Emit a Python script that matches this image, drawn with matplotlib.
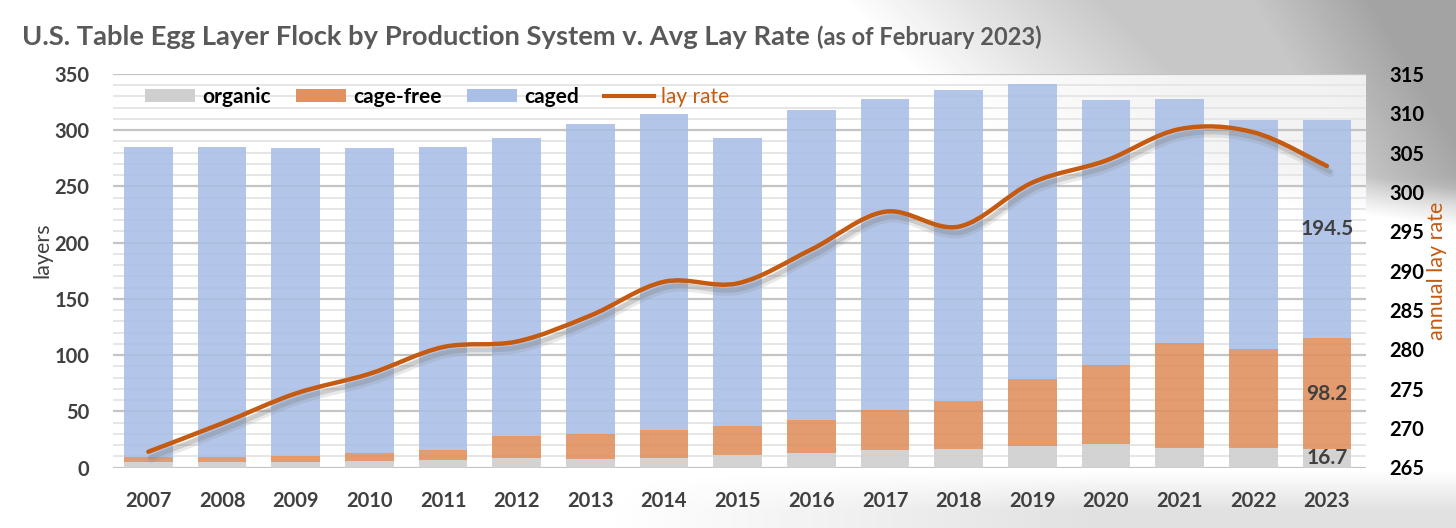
import numpy as np
import matplotlib
matplotlib.use("Agg")
from matplotlib import pyplot as plt
from matplotlib.path import Path
from matplotlib.patches import PathPatch, Patch
from matplotlib.lines import Line2D
import matplotlib.patheffects as pe

plt.rcParams["font.family"] = ["Lato", "DejaVu Sans"]

# data (million layers)
years = [str(y) for y in range(2007, 2024)]
organic = [4.5, 4.5, 5.0, 6.0, 7.0, 8.5, 8.0, 8.5, 11.0, 12.8, 15.6, 16.5, 18.9, 21.3, 17.4, 17.4, 16.7]
cage_free = [4.5, 5.0, 5.5, 6.5, 8.5, 19.5, 21.5, 24.5, 26.0, 29.7, 35.9, 42.8, 60.2, 69.8, 93.5, 88.4, 98.2]
caged = [276.4, 275.3, 274.0, 272.0, 269.9, 265.4, 276.4, 281.8, 256.4, 275.8, 276.0, 276.9, 261.6, 236.1, 216.9, 202.9, 194.5]
lay_rate = [267.0, 270.6, 274.4, 276.9, 280.3, 281.0, 284.3, 288.6, 288.4, 292.7, 297.5, 295.6, 301.2, 304.0, 308.0, 307.6, 303.3]

c_org = "#CFCFCF"
c_cf = "#E0915F"
c_caged = "#A9BFE6"
c_line = "#C55A11"
txt = "#404040"

W, H = 1456, 528
fig = plt.figure(figsize=(W / 100, H / 100), dpi=100)

# background: grey photo-ish wash on the right
X, Y = np.meshgrid(np.arange(W), np.arange(H))
bg = np.ones((H, W))
top = np.clip((X - 840 - 1.0 * Y) / 260, 0, 1) * np.clip((215 - Y + 0.15 * (X - 1366)) / 40, 0, 1)
bg -= 0.22 * top
dark = np.clip((X - 1250 - 0.6 * Y) / 120, 0, 1) * np.clip((205 - Y) / 30, 0, 1)
bg -= 0.14 * dark
bot = np.clip((Y - 470) / 40, 0, 1) * np.clip((X - 600) / 500, 0, 1)
bg -= 0.12 * bot
bga = fig.add_axes([0, 0, 1, 1], zorder=-10)
bga.imshow(bg, cmap="gray", vmin=0, vmax=1, aspect="auto", interpolation="bilinear")
bga.axis("off")

L, R, T, B = 113, 1366, 74, 467.5
ax = fig.add_axes([L / W, 1 - B / H, (R - L) / W, (B - T) / H])
ax.set_facecolor((1, 1, 1, 0.8))

x = np.arange(len(years))
bw = 0.66
org = np.array(organic)
cf = np.array(cage_free)
cg = np.array(caged)
ax.bar(x, org, bw, color=c_org, alpha=0.9, zorder=2)
ax.bar(x, cf, bw, bottom=org, color=c_cf, alpha=0.9, zorder=2)
ax.bar(x, cg, bw, bottom=org + cf, color=c_caged, alpha=0.88, zorder=2)

ax.set_xlim(-0.48, len(years) - 0.47)
ax.set_ylim(0, 350)
ax.set_yticks(np.arange(0, 351, 50))
ax.set_yticks(np.arange(0, 351, 10), minor=True)
ax.grid(True, which="major", axis="y", color="#C4C4C4", lw=1.6, zorder=1)
ax.grid(True, which="minor", axis="y", color="#E6E6E6", lw=1.4, zorder=1)
ax.set_axisbelow(True)
for s in ax.spines.values():
    s.set_visible(False)
ax.set_xticks(x)
ax.set_xticklabels(years)
ax.tick_params(axis="both", which="both", length=0)
ax.tick_params(axis="x", pad=17, labelsize=14.5, labelcolor=txt)
ax.tick_params(axis="y", pad=17, labelsize=14.5, labelcolor=txt)
for lab in ax.get_xticklabels() + ax.get_yticklabels():
    lab.set_fontweight("bold")

# value labels on last bar
i = len(years) - 1
for bottom, val in [(0, org[i]), (org[i], cf[i]), (org[i] + cf[i], cg[i])]:
    ax.text(x[i], bottom + val / 2, f"{val:.1f}", ha="center", va="center",
            fontsize=15, fontweight="bold", color=txt, zorder=5)

# lay rate on the right axis, smoothed like the spreadsheet curve
ax2 = ax.twinx()
ax2.set_ylim(265, 315)
ax2.set_yticks(np.arange(265, 316, 5))
for s in ax2.spines.values():
    s.set_visible(False)
ax2.tick_params(axis="y", length=0, pad=17, labelsize=14.5, labelcolor="black")
for lab in ax2.get_yticklabels():
    lab.set_fontweight("bold")

pts = np.column_stack([x, lay_rate]).astype(float)
ext = np.vstack([pts[0], pts, pts[-1]])
verts = [tuple(pts[0])]
codes = [Path.MOVETO]
for k in range(len(pts) - 1):
    p0, p1, p2, p3 = ext[k], ext[k + 1], ext[k + 2], ext[k + 3]
    c1 = p1 + (p2 - p0) / 6
    c2 = p2 - (p3 - p1) / 6
    verts += [tuple(c1), tuple(c2), tuple(p2)]
    codes += [Path.CURVE4] * 3
curve = PathPatch(Path(verts, codes), facecolor="none", edgecolor=c_line, lw=3.2,
                  capstyle="round", zorder=4)
curve.set_path_effects([pe.Stroke(linewidth=6, foreground="#888888", alpha=0.18, offset=(2, -5)),
                        pe.Stroke(linewidth=3.5, foreground="#777777", alpha=0.25, offset=(2, -4)),
                        pe.Normal()])
ax2.add_patch(curve)

# legend
handles = [Patch(facecolor=c_org), Patch(facecolor=c_cf), Patch(facecolor=c_caged),
           Line2D([], [], color=c_line, lw=3)]
leg = ax.legend(handles, ["organic", "cage-free", "caged", "lay rate"], ncol=4,
                loc="center left", bbox_to_anchor=((145 - L) / (R - L), 1 - (97 - T) / (B - T)),
                frameon=False, fontsize=15, handlelength=2.4, handleheight=0.55,
                handletextpad=0.35, columnspacing=1.2, borderpad=0, borderaxespad=0)
for t in leg.get_texts():
    t.set_fontweight("bold")
leg.get_texts()[3].set_color(c_line)
leg.get_texts()[3].set_fontweight("normal")
leg.set_zorder(6)

fig.text(42 / W, 1 - 250 / H, "layers", rotation=90, ha="center", va="center",
         fontsize=15.5, color=txt)
fig.text(1437 / W, 1 - 271 / H, "annual lay rate", rotation=90, ha="center", va="center",
         fontsize=15.5, color=c_line)

# title in two parts
t1 = fig.text(22 / W, 1 - 45 / H, "U.S. Table Egg Layer Flock by Production System v. Avg Lay Rate",
              fontsize=19.7, fontweight="bold", color="#595959", va="baseline")
fig.canvas.draw()
bb = t1.get_window_extent()
fig.text((bb.x1 + 7) / W, 1 - 45 / H, "(as of February 2023)", fontsize=17,
         fontweight="bold", color="#595959", va="baseline")

fig.savefig("out.png", dpi=100)
